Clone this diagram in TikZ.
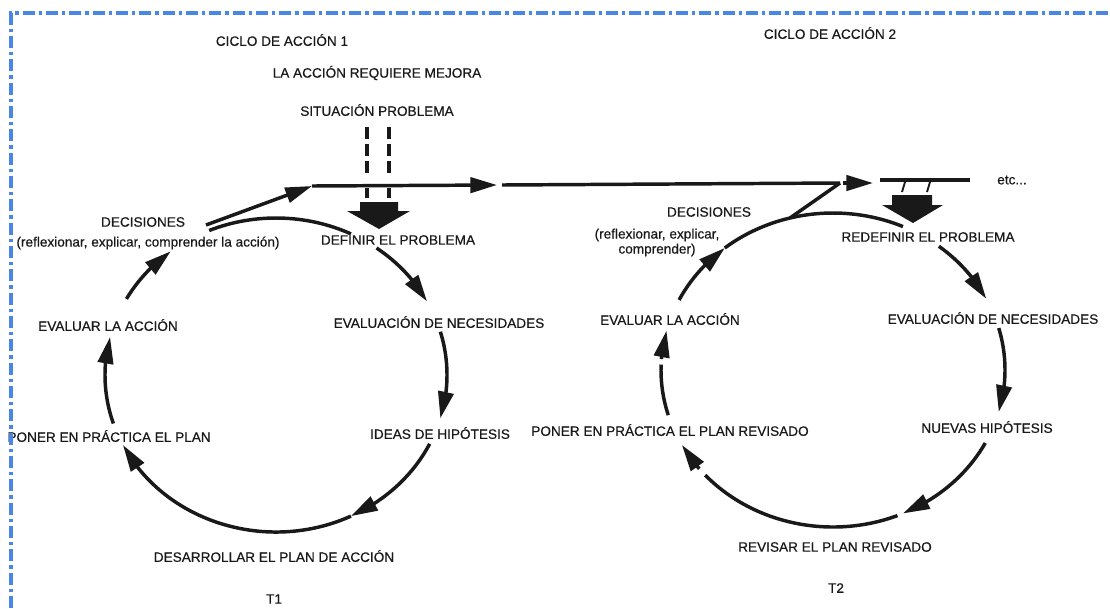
\documentclass[tikz,border=0pt]{standalone}
\usepackage{fontspec}
\setmainfont{Liberation Sans}[BoldFont=Liberation Sans, BoldFeatures={FakeBold=0.45}]
\usetikzlibrary{arrows.meta,bending,calc}
\definecolor{bordeazul}{RGB}{74,134,232}
\definecolor{tinta}{RGB}{25,25,25}
\begin{document}
\begin{tikzpicture}[x=0.75pt,y=-0.75pt,
  lbl/.style={font=\fontsize{10.2pt}{12pt}\selectfont\bfseries, text=tinta, inner sep=0pt},
  linea/.style={line width=2.6pt, draw=tinta},
  flecha/.style={linea, -{Triangle[length=20pt,width=11.5pt]}},
  tick/.style={line width=1.4pt, draw=tinta},
  bloque/.style={fill=tinta},
  borde/.style={line width=2.6pt, draw=bordeazul, dash pattern=on 9pt off 3pt on 2.5pt off 3pt}
]
\useasboundingbox (0,0) rectangle (1110,608);
\fill[white] (0,0) rectangle (1110,608);

% centres of the two cycles
\coordinate (c1) at (276,375);
\coordinate (c2) at (833,370);

% ---------- labels ----------
\node[lbl] (t1) at (282,40) {CICLO DE ACCIÓN 1};
\node[lbl] (mejora) at (377,73) {LA ACCIÓN REQUIERE MEJORA};
\node[lbl] (situacion) at (377,110) {SITUACIÓN PROBLEMA};
\node[lbl] (dec1) at (143,222) {DECISIONES};
\node[lbl] (dec1b) at (148,243) {(reflexionar, explicar, comprender la acción)};
\node[lbl] (definir) at (398,240) {DEFINIR EL PROBLEMA};
\node[lbl] (evnec1) at (439,322) {EVALUACIÓN DE NECESIDADES};
\node[lbl] (ideas) at (440,433) {IDEAS DE HIPÓTESIS};
\node[lbl,anchor=east] (poner1) at (211,436) {PONER EN PRÁCTICA EL PLAN};
\node[lbl] (evaluar1) at (108,325) {EVALUAR LA ACCIÓN};
\node[lbl] (desarrollar) at (274,556) {DESARROLLAR EL PLAN DE ACCIÓN};
\node[lbl] (T1) at (274,599) {T1};

\node[lbl] (t2) at (830,33) {CICLO DE ACCIÓN 2};
\node[lbl] (etc) at (1012,180) {etc...};
\node[lbl] (dec2) at (709,212) {DECISIONES};
\node[lbl,align=center,font=\fontsize{10.2pt}{11.25pt}\selectfont\bfseries] (dec2b) at (657,242.5) {(reflexionar, explicar,\\comprender)};
\node[lbl] (redefinir) at (928,237) {REDEFINIR EL PROBLEMA};
\node[lbl] (evnec2) at (993,318) {EVALUACIÓN DE NECESIDADES};
\node[lbl] (evaluar2) at (670,319) {EVALUAR LA ACCIÓN};
\node[lbl] (poner2) at (670,430) {PONER EN PRÁCTICA EL PLAN REVISADO};
\node[lbl] (nuevas) at (987,427) {NUEVAS HIPÓTESIS};
\node[lbl] (revisar) at (835,547) {REVISAR EL PLAN REVISADO};
\node[lbl] (T2) at (836,588) {T2};

% ---------- cycle 1 ----------
\draw[linea]  ($(c1)+(247:171 and 157)$) arc[start angle=247, end angle=296, x radius=171, y radius=157];
\draw[flecha] ($(c1)+(306:171 and 157)$) arc[start angle=306, end angle=332, x radius=171, y radius=157];
\draw[flecha] ($(c1)+(-16:171 and 157)$) arc[start angle=-16, end angle=16, x radius=171, y radius=157];
\draw[flecha] ($(c1)+(26:171 and 157)$) arc[start angle=26, end angle=64, x radius=171, y radius=157];
\draw[flecha] ($(c1)+(64:171 and 157)$) arc[start angle=64, end angle=153.5, x radius=171, y radius=157];
\draw[flecha] ($(c1)+(162:171 and 157)$) arc[start angle=162, end angle=194, x radius=171, y radius=157];
\draw[flecha] ($(c1)+(209:171 and 157)$) arc[start angle=209, end angle=232, x radius=171, y radius=157];

% decisions -> main line
\coordinate (d1a) at (206,225);
\coordinate (h1) at (312,186);
\coordinate (h1b) at (497,185);
\coordinate (h2) at (502,185);
\coordinate (z2) at (840,183);
\draw[flecha] (d1a) -- (h1);
\draw[flecha] (h1) -- (h1b);
\draw[linea] (h2) -- (z2);

% situation problem: dashed double line and block arrow
\draw[linea, dash pattern=on 9pt off 3.75pt] (367,127) -- (367,173);
\draw[linea, dash pattern=on 9pt off 3.75pt] (389,127) -- (389,173);
\draw[linea] (367,188) -- (367,198);
\draw[linea] (389,188) -- (389,198);
\fill[bloque] (360,202) -- (398,202) -- (398,211) -- (410,211) -- (379,229) -- (347,211) -- (360,211) -- cycle;

% ---------- cycle 2 ----------
\coordinate (j2) at ($(c2)+(255.5:172 and 157)$);
\draw[flecha] ($(c2)+(206.5:172 and 157)$) arc[start angle=206.5, end angle=231, x radius=172, y radius=157];
\draw[linea]  ($(c2)+(231:172 and 157)$) arc[start angle=231, end angle=255.5, x radius=172, y radius=157];
\draw[linea]  (j2) arc[start angle=255.5, end angle=294, x radius=172, y radius=157];
\draw[flecha] ($(c2)+(-52:172 and 157)$) arc[start angle=-52, end angle=-27, x radius=172, y radius=157];
\draw[flecha] ($(c2)+(-15.5:172 and 157)$) arc[start angle=-15.5, end angle=15.5, x radius=172, y radius=157];
\draw[flecha] ($(c2)+(27.7:172 and 157)$) arc[start angle=27.7, end angle=66, x radius=172, y radius=157];
\draw[linea]  ($(c2)+(68:172 and 157)$) arc[start angle=68, end angle=138, x radius=172, y radius=157];
\draw[flecha] ($(c2)+(141:172 and 157)$) arc[start angle=141, end angle=151.5, x radius=172, y radius=157];
\draw[linea]  ($(c2)+(163.3:172 and 157)$) arc[start angle=163.3, end angle=182, x radius=172, y radius=157];
\draw[flecha] ($(c2)+(184:172 and 157)$) arc[start angle=184, end angle=194.5, x radius=172, y radius=157];

% Z junction and continuation
\coordinate (a2) at (843,183);
\coordinate (a2b) at (873,183);
\coordinate (r2) at (880,180);
\coordinate (r2b) at (970,180);
\draw[linea] (j2) -- (z2);
\draw[flecha] (a2) -- (a2b);
\draw[linea] (r2) -- (r2b);
\draw[tick] (905,182) -- (902,192);
\draw[tick] (930,182) -- (927,192);
\fill[bloque] (892,195) -- (932,195) -- (932,205) -- (943,205) -- (913,223) -- (882,205) -- (892,205) -- cycle;

% ---------- border ----------
\draw[borde] (11,608) -- (11,13) -- (1110,13);
\end{tikzpicture}
\end{document}
